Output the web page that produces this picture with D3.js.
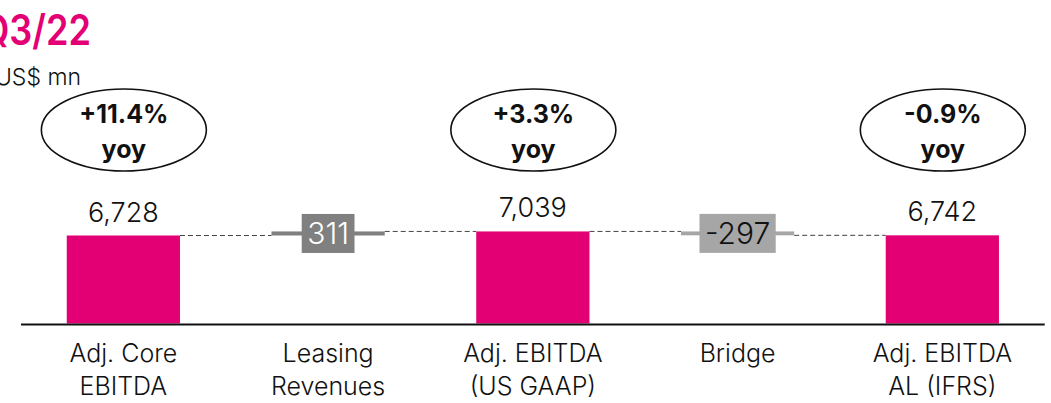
<!DOCTYPE html>
<html>
<head>
<meta charset="utf-8">
<script src="https://cdn.jsdelivr.net/npm/d3@7"></script>
<style>
  html, body { margin: 0; padding: 0; background: #fff; }
  svg { display: block; font-family: Inter, "Noto Sans", sans-serif; }
</style>
</head>
<body>
<svg id="chart" width="1051" height="403"></svg>
<script>
// EBITDA reconciliation, Q3/22, US$ mn
const categories = [
  ["Adj. Core", "EBITDA"],
  ["Leasing", "Revenues"],
  ["Adj. EBITDA", "(US GAAP)"],
  ["Bridge"],
  ["Adj. EBITDA", "AL (IFRS)"]
];
const values = [6728, 311, 7039, -297, 6742];
const kinds = ["total", "delta", "total", "delta", "total"];
const yoyLabels = ["+11.4%", null, "+3.3%", null, "-0.9%"];
const title = "Q3/22";
const unit = "US$ mn";

const MAGENTA = "#E20074";
const GREY_UP = "#808080";
const GREY_DOWN = "#A6A6A6";

const fmt = d3.formatLocale({decimal: ".", thousands: ",", grouping: [3], currency: ["$", ""], minus: "-"}).format(",");

// running waterfall positions
let running = 0;
const rows = values.map((v, i) => {
  let y0, y1;
  if (kinds[i] === "total") { y0 = 0; y1 = v; running = v; }
  else { y0 = running; y1 = running + v; running = y1; }
  return {i, v, kind: kinds[i], y0, y1, lines: categories[i], yoy: yoyLabels[i]};
});

const svg = d3.select("#chart");
const baseY = 323.5;

const x = d3.scaleBand()
  .domain(rows.map(d => d.i))
  .range([21, 1044.7])
  .paddingInner(0.447)
  .paddingOuter(0.2235);

const y = d3.scaleLinear().domain([0, 6728]).range([baseY, 235.5]);

// connectors between consecutive bars
const conn = svg.append("g");
rows.slice(0, -1).forEach((d, k) => {
  const next = rows[k + 1];
  conn.append("line")
    .attr("x1", x(d.i) + x.bandwidth())
    .attr("x2", x(next.i))
    .attr("y1", y(d.y1)).attr("y2", y(d.y1))
    .attr("stroke", "#444").attr("stroke-width", 1)
    .attr("stroke-dasharray", "5,3");
});

// bars
svg.append("g").selectAll("rect").data(rows).join("rect")
  .attr("x", d => x(d.i))
  .attr("width", x.bandwidth())
  .attr("y", d => y(Math.max(d.y0, d.y1)))
  .attr("height", d => Math.abs(y(d.y0) - y(d.y1)))
  .attr("fill", d => d.kind === "total" ? MAGENTA : (d.v >= 0 ? GREY_UP : GREY_DOWN));

// axis baseline
svg.append("line")
  .attr("x1", x.range()[0]).attr("x2", x.range()[1])
  .attr("y1", baseY + 1).attr("y2", baseY + 1)
  .attr("stroke", "#111").attr("stroke-width", 2);

// total value labels
svg.append("g").selectAll("text").data(rows.filter(d => d.kind === "total")).join("text")
  .attr("x", d => x(d.i) + x.bandwidth() / 2)
  .attr("y", d => y(d.y1) - 14)
  .attr("text-anchor", "middle")
  .attr("font-size", 27)
  .attr("font-weight", 300)
  .attr("fill", "#111")
  .text(d => fmt(d.v));

// delta labels in boxes
rows.filter(d => d.kind === "delta").forEach(d => {
  const cx = x(d.i) + x.bandwidth() / 2;
  const cy = (y(d.y0) + y(d.y1)) / 2;
  const g = svg.append("g");
  const box = g.append("rect");
  const t = g.append("text")
    .attr("x", cx).attr("y", cy + 11)
    .attr("text-anchor", "middle")
    .attr("font-size", 30)
    .attr("font-weight", 300)
    .attr("fill", d.v >= 0 ? "#fff" : "#111")
    .text(fmt(d.v));
  const w = t.node().getComputedTextLength() + 11;
  box.attr("x", cx - w / 2).attr("width", w)
    .attr("y", cy - 19.5).attr("height", 39)
    .attr("fill", d.v >= 0 ? GREY_UP : GREY_DOWN);
});

// category labels
const cat = svg.append("g").selectAll("text").data(rows).join("text")
  .attr("text-anchor", "middle")
  .attr("font-size", 25)
  .attr("font-weight", 300)
  .attr("fill", "#111");
cat.each(function(d) {
  const cx = x(d.i) + x.bandwidth() / 2;
  d3.select(this).selectAll("tspan").data(d.lines).join("tspan")
    .attr("x", cx)
    .attr("y", (s, j) => 362 + j * 33)
    .text(s => s);
});

// yoy ellipses
const yoyG = svg.append("g").selectAll("g").data(rows.filter(d => d.yoy)).join("g")
  .attr("transform", d => `translate(${x(d.i) + x.bandwidth() / 2 + 0.5},130)`);
yoyG.append("ellipse")
  .attr("rx", 82.5).attr("ry", 41)
  .attr("fill", "none").attr("stroke", "#111").attr("stroke-width", 1.6);
yoyG.append("text")
  .attr("text-anchor", "middle").attr("y", -7)
  .attr("font-size", 25).attr("font-weight", 700).attr("fill", "#111")
  .text(d => d.yoy);
yoyG.append("text")
  .attr("text-anchor", "middle").attr("y", 28)
  .attr("font-size", 25).attr("font-weight", 700).attr("fill", "#111")
  .text("yoy");

// title and unit
svg.append("text")
  .attr("transform", "translate(91,45) scale(0.86,1)")
  .attr("text-anchor", "end")
  .attr("font-size", 42).attr("font-weight", 600)
  .attr("fill", MAGENTA)
  .text(title);
svg.append("text")
  .attr("x", 81).attr("y", 85)
  .attr("text-anchor", "end")
  .attr("font-size", 23)
  .attr("font-weight", 300)
  .attr("fill", "#111")
  .text(unit);
</script>
</body>
</html>
